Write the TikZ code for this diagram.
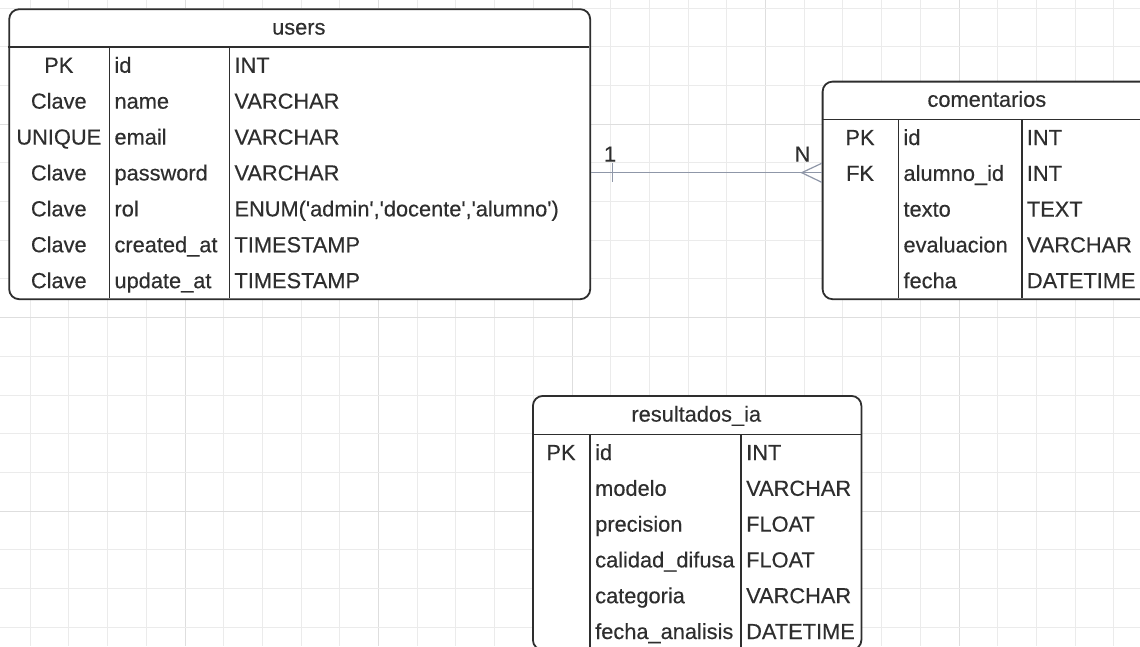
\documentclass[tikz,border=0pt]{standalone}
\usepackage{fontspec}
\setmainfont{Liberation Sans}[Ligatures=TeXOff]
\newfontfamily\cellfont{Liberation Sans}[Ligatures=TeXOff, FakeBold=0.35]
\usetikzlibrary{calc}
\definecolor{gridminor}{HTML}{EBEBEB}
\definecolor{gridmajor}{HTML}{DEDEDE}
\definecolor{ink}{HTML}{2E2E2E}
\definecolor{txt}{HTML}{2E2E2E}
\definecolor{conn}{HTML}{8F97A8}
\tikzset{
  tablebox/.style={draw=ink, line width=1.8pt, fill=white, rounded corners=10pt, inner sep=0pt, anchor=north west},
  divider/.style={draw=ink, line width=1.6pt},
  cell/.style={inner sep=0pt, text=txt, font=\cellfont\fontsize{21.8}{26}\selectfont},
  keycell/.style={cell, anchor=base},
  fieldcell/.style={cell, anchor=base west},
  headcell/.style={cell, anchor=base},
  connector/.style={draw=conn, line width=1.2pt},
  cardlabel/.style={cell, anchor=base},
}
\begin{document}
\begin{tikzpicture}[x=1pt,y=-1pt]
\useasboundingbox (0,0) rectangle (1140,646);
\clip (0,0) rectangle (1140,646);
\fill[white] (0,0) rectangle (1140,646);
% grid
\foreach \k in {0,...,28}{
  \pgfmathsetmacro{\gx}{30.2+38.7*\k}
  \pgfmathtruncatemacro{\m}{mod(\k,5)==4 ? 1 : 0}
  \ifnum\m=1 \draw[gridmajor, line width=1pt] (\gx,0) -- (\gx,646);
  \else \draw[gridminor, line width=1pt] (\gx,0) -- (\gx,646); \fi
}
\foreach \k in {0,...,16}{
  \pgfmathsetmacro{\gy}{8+38.7*\k}
  \pgfmathtruncatemacro{\m}{mod(\k,5)==3 ? 1 : 0}
  \ifnum\m=1 \draw[gridmajor, line width=1pt] (0,\gy) -- (1140,\gy);
  \else \draw[gridminor, line width=1pt] (0,\gy) -- (1140,\gy); \fi
}

% ---------------- users ----------------
\node[tablebox, minimum width=581pt, minimum height=290pt] (users) at (8.3,8.3) {};
\draw[divider] (8.3,47) -- (589.3,47);
\draw[divider] (109.3,47) -- (109.3,298.3);
\draw[divider] (229.3,47) -- (229.3,298.3);
\node[headcell] (uHead) at (298.8,34.6) {users};
\node[keycell] (uK1) at (58.8,72.75) {PK};
\node[fieldcell] (uF1) at (114.3,72.75) {id};
\node[fieldcell] (uT1) at (234.3,72.75) {INT};
\node[keycell] (uK2) at (58.8,108.65) {Clave};
\node[fieldcell] (uF2) at (114.3,108.65) {name};
\node[fieldcell] (uT2) at (234.3,108.65) {VARCHAR};
\node[keycell] (uK3) at (58.8,144.55) {UNIQUE};
\node[fieldcell] (uF3) at (114.3,144.55) {email};
\node[fieldcell] (uT3) at (234.3,144.55) {VARCHAR};
\node[keycell] (uK4) at (58.8,180.45) {Clave};
\node[fieldcell] (uF4) at (114.3,180.45) {password};
\node[fieldcell] (uT4) at (234.3,180.45) {VARCHAR};
\node[keycell] (uK5) at (58.8,216.35) {Clave};
\node[fieldcell] (uF5) at (114.3,216.35) {rol};
\node[fieldcell] (uT5) at (234.3,216.35) {ENUM('admin','docente','alumno')};
\node[keycell] (uK6) at (58.8,252.25) {Clave};
\node[fieldcell] (uF6) at (114.3,252.25) {created\_at};
\node[fieldcell] (uT6) at (234.3,252.25) {TIMESTAMP};
\node[keycell] (uK7) at (58.8,288.15) {Clave};
\node[fieldcell] (uF7) at (114.3,288.15) {update\_at};
\node[fieldcell] (uT7) at (234.3,288.15) {TIMESTAMP};

% ---------------- comentarios ----------------
\node[tablebox, minimum width=330.3pt, minimum height=217.6pt] (coment) at (821.7,80.7) {};
\draw[divider] (821.7,119.3) -- (1152,119.3);
\draw[divider] (898.3,119.3) -- (898.3,298.3);
\draw[divider] (1021.7,119.3) -- (1021.7,298.3);
\node[headcell] (cHead) at (986.85,106.8) {comentarios};
\node[keycell] (cK1) at (860,145.0) {PK};
\node[fieldcell] (cF1) at (903.3,145.0) {id};
\node[fieldcell] (cT1) at (1026.7,145.0) {INT};
\node[keycell] (cK2) at (860,180.8) {FK};
\node[fieldcell] (cF2) at (903.3,180.8) {alumno\_id};
\node[fieldcell] (cT2) at (1026.7,180.8) {INT};
\node[fieldcell] (cF3) at (903.3,216.6) {texto};
\node[fieldcell] (cT3) at (1026.7,216.6) {TEXT};
\node[fieldcell] (cF4) at (903.3,252.4) {evaluacion};
\node[fieldcell] (cT4) at (1026.7,252.4) {VARCHAR};
\node[fieldcell] (cF5) at (903.3,288.2) {fecha};
\node[fieldcell] (cT5) at (1026.7,288.2) {DATETIME};

% ---------------- resultados_ia ----------------
\node[tablebox, minimum width=328.5pt, minimum height=254pt] (result) at (532,395) {};
\draw[divider] (532,434.3) -- (860.5,434.3);
\draw[divider] (590,434.3) -- (590,649);
\draw[divider] (741,434.3) -- (741,649);
\node[headcell] (rHead) at (696.25,421.6) {resultados\_ia};
\node[keycell] (rK1) at (561,460) {PK};
\node[fieldcell] (rF1) at (595,460) {id};
\node[fieldcell] (rT1) at (746,460) {INT};
\node[fieldcell] (rF2) at (595,495.8) {modelo};
\node[fieldcell] (rT2) at (746,495.8) {VARCHAR};
\node[fieldcell] (rF3) at (595,531.6) {precision};
\node[fieldcell] (rT3) at (746,531.6) {FLOAT};
\node[fieldcell] (rF4) at (595,567.4) {calidad\_difusa};
\node[fieldcell] (rT4) at (746,567.4) {FLOAT};
\node[fieldcell] (rF5) at (595,603.2) {categoria};
\node[fieldcell] (rT5) at (746,603.2) {VARCHAR};
\node[fieldcell] (rF6) at (595,639) {fecha\_analisis};
\node[fieldcell] (rT6) at (746,639) {DATETIME};

% ---------------- relationship users 1 -- N comentarios ----------------
\coordinate (rel) at (700,172.7);
\draw[connector] (users.east |- rel) -- (coment.west |- rel);
% one mark
\draw[connector] ($(users.east |- rel)+(21.4,-9.5)$) -- ++(0,19);
% crow's foot (many)
\draw[connector] ($(coment.west |- rel)+(0,-9.4)$) -- ($(coment.west |- rel)+(-20,0)$) -- ($(coment.west |- rel)+(0,9.6)$);
\node[cardlabel] (one) at (610,161.6) {1};
\node[cardlabel] (many) at (802.5,161.6) {N};
\end{tikzpicture}
\end{document}
